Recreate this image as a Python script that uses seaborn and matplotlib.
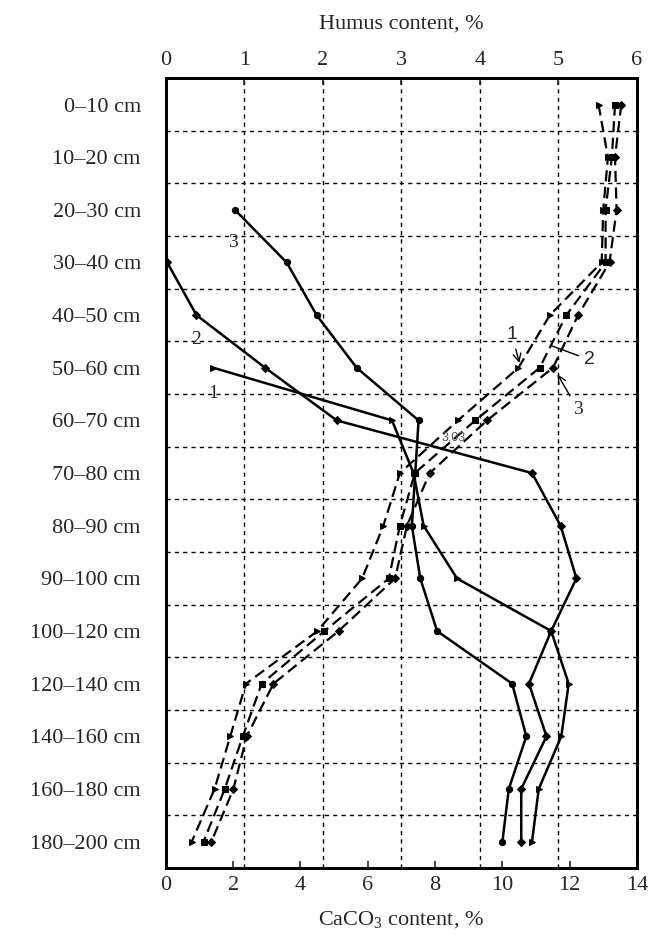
import numpy as np
import pandas as pd
import seaborn as sns
import matplotlib.pyplot as plt

nan = np.nan

# Soil layers (top to bottom)
depths = ['0–10 cm', '10–20 cm', '20–30 cm', '30–40 cm', '40–50 cm',
          '50–60 cm', '60–70 cm', '70–80 cm', '80–90 cm', '90–100 cm',
          '100–120 cm', '120–140 cm', '140–160 cm', '160–180 cm', '180–200 cm']

# CaCO3 content, % (solid lines, bottom axis)
caco3_1 = [nan, nan, nan, nan, nan, 1.41, 6.72, 7.36, 7.66, 8.65, 11.45, 11.97, 11.75, 11.08, 10.88]
caco3_2 = [nan, nan, nan, 0.04, 0.91, 2.95, 5.08, 10.88, 11.73, 12.2, 11.45, 10.79, 11.31, 10.56, 10.56]
caco3_3 = [nan, nan, 2.05, 3.59, 4.48, 5.67, 7.51, 7.41, 7.31, 7.56, 8.06, 10.29, 10.71, 10.19, 10.0]

# Humus content, % (dashed lines, top axis)
humus_1 = [5.51, 5.63, 5.57, 5.55, 4.89, 4.49, 3.72, 2.98, 2.77, 2.50, 1.93, 1.02, 0.82, 0.62, 0.33]
humus_2 = [5.72, 5.68, 5.60, 5.60, 5.10, 4.76, 3.94, 3.17, 2.98, 2.84, 2.02, 1.22, 0.98, 0.75, 0.48]
humus_3 = [5.80, 5.72, 5.74, 5.65, 5.25, 4.93, 4.09, 3.36, 3.07, 2.92, 2.20, 1.37, 1.03, 0.86, 0.58]

profiles = ['1', '2', '3']


def long_frame(series):
    rows = []
    for name, vals in zip(profiles, series):
        for pos, v in enumerate(vals):
            rows.append({'profile': name, 'pos': pos, 'value': v})
    return pd.DataFrame(rows).dropna()


caco3 = long_frame([caco3_1, caco3_2, caco3_3])
humus = long_frame([humus_1, humus_2, humus_3])

sns.set_style('white')
plt.rcParams['font.family'] = ['Liberation Serif', 'DejaVu Serif']
plt.rcParams['mathtext.fontset'] = 'custom'
plt.rcParams['mathtext.rm'] = 'Liberation Serif'
plt.rcParams['mathtext.it'] = 'Liberation Serif:italic'

fig, ax = plt.subplots(figsize=(6.53, 9.42), dpi=100)
fig.subplots_adjust(left=0.254, right=0.9755, top=0.917, bottom=0.0786)
ax2 = ax.twiny()

# CaCO3 profiles
sns.lineplot(data=caco3, x='value', y='pos', style='profile',
             markers={'1': '>', '2': 'D', '3': 'o'}, dashes=False,
             color='black', lw=1.8, markersize=4.5, markeredgecolor='black',
             estimator=None, sort=False, legend=False, ax=ax)

# Humus profiles
sns.lineplot(data=humus, x='value', y='pos', style='profile',
             markers={'1': '>', '2': 's', '3': 'D'},
             dashes={'1': (5, 2.5), '2': (5, 2.5), '3': (5, 2.5)},
             color='black', lw=1.6, markersize=4.5, markeredgecolor='black',
             estimator=None, sort=False, legend=False, ax=ax2)

# Axes
ax.set_xlim(0, 14)
ax.set_xticks(range(0, 15, 2))
ax2.set_xlim(0, 6)
ax2.set_xticks(range(0, 7))
ax.set_ylim(len(depths) - 0.5, -0.5)
ax.set_yticks(range(len(depths)))
ax.set_yticklabels(depths)
ax.set_yticks(np.arange(0.5, len(depths) - 1, 1), minor=True)

ax.set_xlabel('CaCO$_3$ content, %', fontsize=16, labelpad=10)
ax.set_ylabel('')
ax2.set_xlabel('Humus content, %', fontsize=16, labelpad=16)
ax2.set_ylabel('')

ax.tick_params(axis='x', direction='in', length=5, width=1.2, labelsize=16, pad=6)
ax.tick_params(axis='y', which='major', length=0, labelsize=16, pad=18)
ax.tick_params(axis='y', which='minor', direction='in', length=5, width=1.2)
ax2.tick_params(axis='x', direction='in', length=5, width=1.2, labelsize=16, pad=6)

# dashed grid
grid_kw = dict(color='black', lw=1.0, linestyle=(0, (3, 3)))
ax.grid(False)
ax.grid(True, which='minor', axis='y', **grid_kw)
ax2.grid(True, axis='x', **grid_kw)
ax2.set_axisbelow(True)

for a in (ax, ax2):
    for s in a.spines.values():
        s.set_linewidth(2)
        s.set_color('black')

# profile numbers
for lab, x, y in [('3', 1.99, 2.62), ('2', 0.89, 4.47), ('1', 1.40, 5.48)]:
    ax.text(x, y, lab, fontsize=14, ha='center', va='center')

arrow = dict(arrowstyle='->', color='black', lw=1)
ax2.annotate('1', xy=(4.51, 4.96), xytext=(4.41, 4.37), fontsize=14,
             ha='center', va='center', family='Liberation Sans', arrowprops=arrow)
ax2.annotate('2', xy=(4.87, 4.56), xytext=(5.40, 4.85), fontsize=14,
             ha='center', va='center', family='Liberation Sans',
             arrowprops=dict(arrowstyle='-', color='black', lw=1))
ax2.annotate('3', xy=(4.97, 5.08), xytext=(5.25, 5.80), fontsize=14,
             ha='center', va='center', arrowprops=arrow)
ax2.text(3.66, 6.33, '3,03', fontsize=9, color='0.35', ha='center', va='center',
         family='Liberation Sans')

plt.savefig('out.png', dpi=100)
plt.close()
